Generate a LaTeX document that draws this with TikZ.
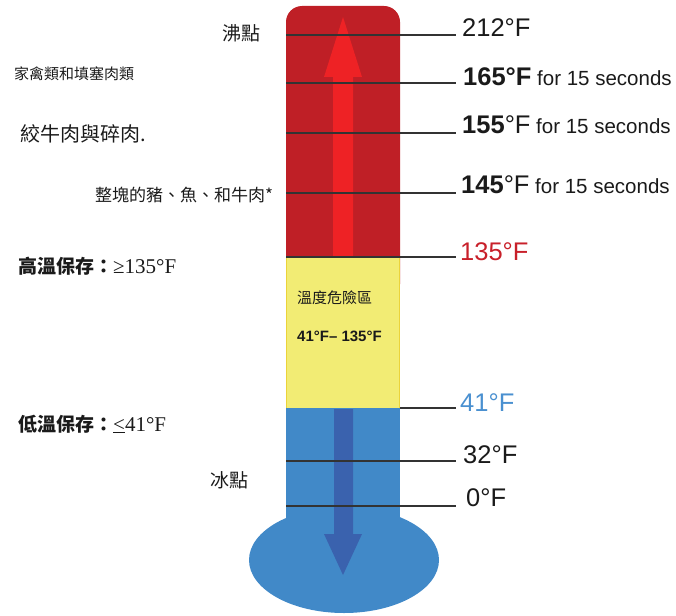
\documentclass[tikz,border=0pt]{standalone}
\usepackage{fontspec}
\setmainfont{Liberation Sans}
\newfontfamily\cjk{Noto Sans CJK TC}
\newfontfamily\serifnum{Liberation Serif}
\definecolor{tubered}{HTML}{BF1F26}
\definecolor{arrowred}{HTML}{EE2225}
\definecolor{tubeyellow}{HTML}{F2EC74}
\definecolor{yellowedge}{HTML}{EBD33A}
\definecolor{tubeblue}{HTML}{4189C8}
\definecolor{arrowblue}{HTML}{3A62AE}
\definecolor{labelred}{HTML}{C8202A}
\definecolor{labelblue}{HTML}{4A90D0}
\definecolor{tickgray}{HTML}{333333}
\definecolor{ink}{HTML}{1A1A1A}
\tikzset{
  txt/.style={inner sep=0pt, text=ink},
  big/.style={txt, anchor=base west, font=\fontsize{25.5}{28}\selectfont},
  tick/.style={draw=tickgray, line width=1.3pt},
}
\newcommand{\secs}{\fontsize{20.5}{24}\selectfont\mdseries\ for 15 seconds}
\begin{document}
\begin{tikzpicture}[x=1pt,y=-1pt]
\useasboundingbox (0,0) rectangle (676,615);
% tube
\fill[tubered, rounded corners=16pt] (286,6) rectangle (400,300);
\fill[tubeblue] (286,408) rectangle (400,530);
\fill[tubeblue] (344,560) ellipse [x radius=95, y radius=53];
\fill[tubeyellow] (286,257) rectangle (400,408);
\draw[yellowedge, line width=1pt] (286.5,257) -- (286.5,408) (399.5,257) -- (399.5,408);
% arrows
\fill[arrowred] (333,257) -- (333,77) -- (324,77) -- (343,17) -- (362,77) -- (353,77) -- (353,257) -- cycle;
\fill[arrowblue] (334,409) -- (334,534) -- (324,534) -- (343,575) -- (362,534) -- (353,534) -- (353,409) -- cycle;
% right labels
\node[big] (t212) at (462,37) {212°F};
\node[big] (t165) at (463,85) {\bfseries 165°F\secs};
\node[big] (t155) at (462,133) {\bfseries 155\mdseries°F\secs};
\node[big] (t145) at (461,193) {\bfseries 145\mdseries°F\secs};
\node[big, text=labelred] (t135) at (460,260) {135°F};
\node[big, text=labelblue] (t41) at (460,411) {41°F};
\node[big] (t32) at (463,463) {32°F};
\node[big] (t0) at (466,506) {0°F};
% tick coordinates
\coordinate (a212) at (286,35);
\coordinate (a165) at (286,83);
\coordinate (a155) at (286,133);
\coordinate (a145) at (286,193);
\coordinate (a135) at (286,257);
\coordinate (a41) at (400,408);
\coordinate (a32) at (286,461);
\coordinate (a0) at (286,506);
\coordinate (b212) at (456,35);
\coordinate (b165) at (456,83);
\coordinate (b155) at (456,133);
\coordinate (b145) at (456,193);
\coordinate (b135) at (456,257);
\coordinate (b41) at (456,408);
\coordinate (b32) at (456,461);
\coordinate (b0) at (456,506);
\foreach \k in {212,165,155,145,135,41,32,0} {\draw[tick] (a\k) -- (b\k);}
% yellow zone text
\node[txt, anchor=west, font=\cjk\fontsize{15}{18}\selectfont] (dz) at (297,298) {溫度危險區};
\node[txt, anchor=west, font=\bfseries\fontsize{15}{18}\selectfont] (dzr) at (297,336) {41°F– 135°F};
% left labels
\node[txt, anchor=west, font=\cjk\fontsize{19}{22}\selectfont] (boil) at (222,33) {沸點};
\node[txt, anchor=west, font=\cjk\fontsize{15}{18}\selectfont] (poultry) at (14,74) {家禽類和填塞肉類};
\node[txt, anchor=west, font=\cjk\fontsize{20}{24}\selectfont] (ground) at (20,134) {絞牛肉與碎肉.};
\node[txt, anchor=west, font=\cjk\fontsize{17}{20}\selectfont] (whole) at (95,195) {整塊的豬、魚、和牛肉*};
\node[txt, anchor=west] (hot) at (18,266) {{\cjk\bfseries\fontsize{19}{22}\selectfont 高溫保存：}{\serifnum\fontsize{21}{24}\selectfont ≥135°F}};
\node[txt, anchor=west] (cold) at (18,424) {{\cjk\bfseries\fontsize{19}{22}\selectfont 低溫保存：}{\serifnum\fontsize{21}{24}\selectfont \underline{<}41°F}};
\node[txt, anchor=west, font=\cjk\fontsize{19}{22}\selectfont] (freeze) at (210,480) {冰點};
\end{tikzpicture}
\end{document}
